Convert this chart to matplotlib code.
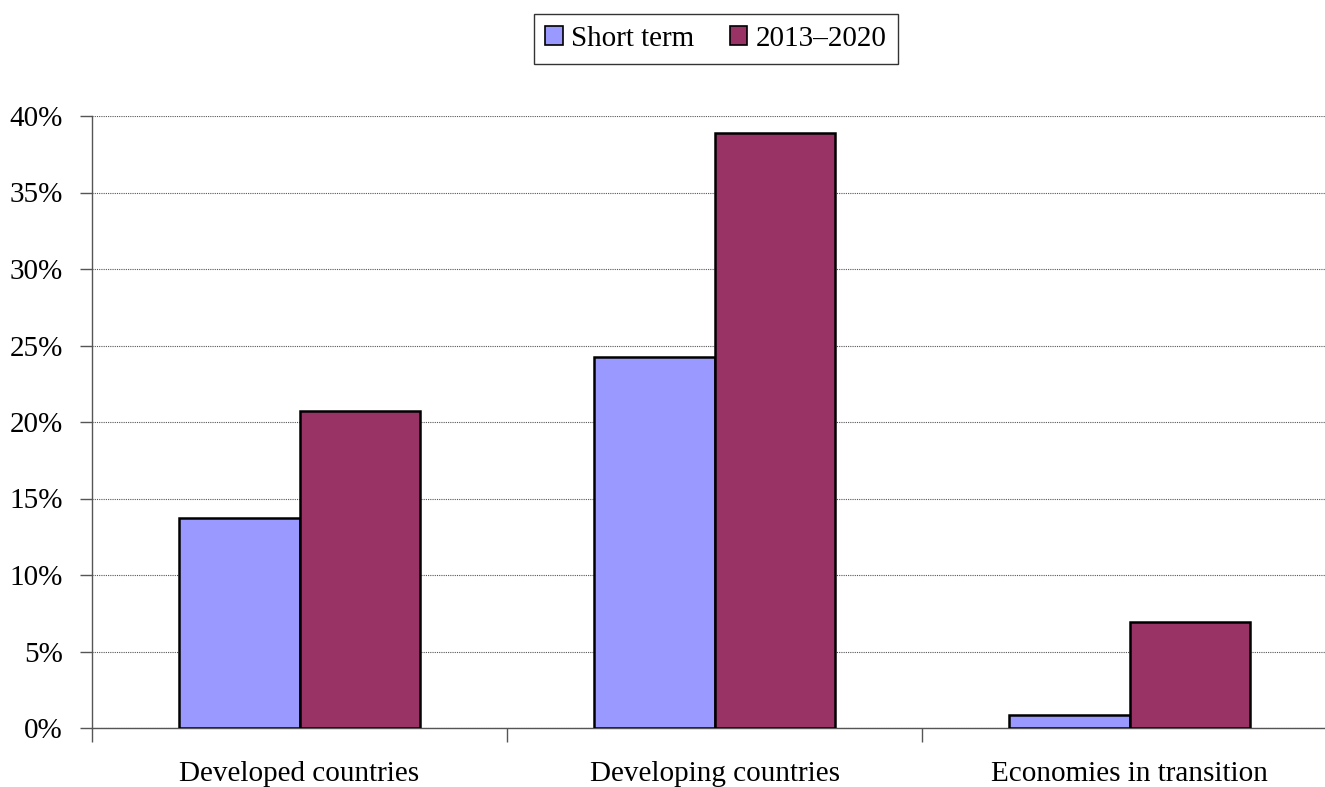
import numpy as np
import matplotlib.pyplot as plt
from matplotlib.ticker import FuncFormatter, FixedLocator

categories = ["Developed countries", "Developing countries", "Economies in transition"]
short_term = [13.7, 24.25, 0.85]
long_term = [20.7, 38.9, 6.9]
series_names = ["Short term", "2013\u20132020"]

plt.rcParams['font.family'] = ['Liberation Serif', 'DejaVu Serif']

fig = plt.figure(figsize=(13.25, 7.87), dpi=100)
ax = fig.add_axes([92 / 1325, 59 / 787, 1245 / 1325, 612 / 787])

x = np.arange(len(categories))
w = 0.29
ax.bar(x - w / 2, short_term, w, color='#9999FF', edgecolor='black', linewidth=1.8,
       label=series_names[0], zorder=3)
ax.bar(x + w / 2, long_term, w, color='#993366', edgecolor='black', linewidth=1.8,
       label=series_names[1], zorder=3)

ax.set_xlim(-0.5, 2.5)
ax.set_ylim(0, 40)
ax.set_yticks(np.arange(0, 41, 5))
ax.yaxis.set_major_formatter(FuncFormatter(lambda v, p: f"{v:.0f}%"))
ax.yaxis.grid(True, color='#555555', linestyle=(0, (1, 1)), linewidth=0.8, zorder=0)

ax.set_xticks(x)
ax.set_xticklabels(categories)
ax.tick_params(axis='x', which='major', length=0, pad=24)
ax.xaxis.set_minor_locator(FixedLocator([-0.5, 0.5, 1.5, 2.5]))
ax.tick_params(axis='x', which='minor', length=10, color='#555555', width=1)
ax.tick_params(axis='y', length=9, color='#555555', width=1, pad=12)
ax.tick_params(labelsize=21)

for s in ['top', 'right']:
    ax.spines[s].set_visible(False)
for s in ['left', 'bottom']:
    ax.spines[s].set_color('#555555')
    ax.spines[s].set_linewidth(1)

leg = fig.legend(loc='center', bbox_to_anchor=(716 / 1325, 1 - 39 / 787), ncol=2,
                 fontsize=21, frameon=True, fancybox=False, edgecolor='black',
                 handlelength=0.6, handleheight=0.6, handletextpad=0.3,
                 columnspacing=1.2, borderpad=0.4)
leg.get_frame().set_linewidth(1)
for h in leg.legend_handles:
    h.set_linewidth(1.2)

fig.savefig('out.png', dpi=100)
